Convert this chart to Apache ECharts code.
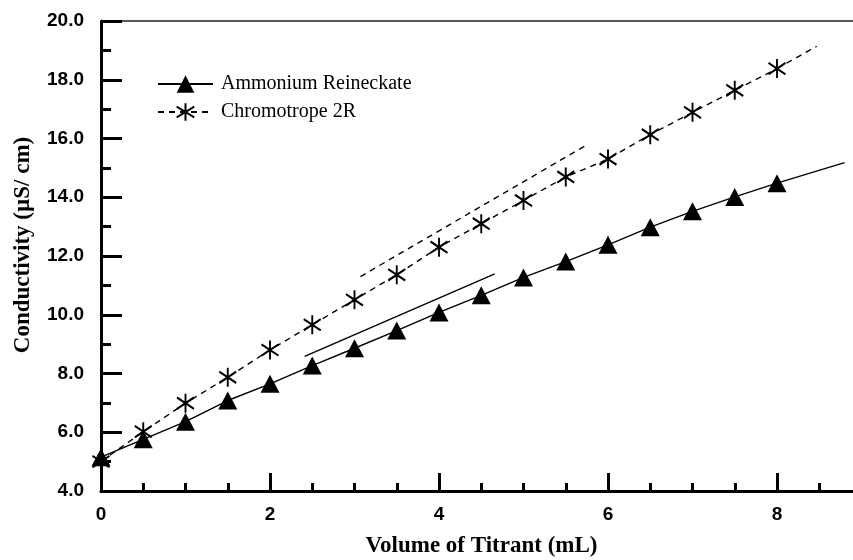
<!DOCTYPE html>
<html>
<head>
<meta charset="utf-8">
<script src="https://cdn.jsdelivr.net/npm/echarts@6/dist/echarts.min.js"></script>
<style>
  html, body { margin: 0; padding: 0; background: #fff; }
  #chart { width: 853px; height: 560px; }
</style>
</head>
<body>
<div id="chart"></div>
<script>
var volume = [0, 0.5, 1, 1.5, 2, 2.5, 3, 3.5, 4, 4.5, 5, 5.5, 6, 6.5, 7, 7.5, 8];
var reineckate = [5.15, 5.76, 6.36, 7.08, 7.65, 8.27, 8.86, 9.46, 10.08, 10.66, 11.27, 11.81, 12.38, 12.98, 13.52, 14.01, 14.48];
var chromotrope = [5.0, 6.02, 6.99, 7.87, 8.80, 9.66, 10.51, 11.36, 12.30, 13.10, 13.89, 14.69, 15.30, 16.13, 16.89, 17.64, 18.38];

// extra fitted segments seen on the plot
var reineckateExt = [[8, 14.48], [8.8, 15.18]];
var reineckateTangent = [[2.41, 8.58], [4.66, 11.39]];
var chromotropeExt = [[8, 18.38], [8.47, 19.14]];
var chromotropeTangent = [[3.07, 11.3], [5.76, 15.8]];

var seriesNames = ['Ammonium Reineckate', 'Chromotrope 2R'];
var xTitle = 'Volume of Titrant (mL)';
var yTitle = 'Conductivity (\u00b5S/ cm)';

var asterisk = 'path://M10,0L10,20M1,4L19,16M1,16L19,4';

function pairs(xs, ys) {
    return xs.map(function (x, i) { return [x, ys[i]]; });
}

var chart = echarts.init(document.getElementById('chart'));

var solid = { color: '#000', width: 1.4, type: 'solid' };
var dashed = { color: '#000', width: 1.4, type: [6, 5] };

var option = {
    backgroundColor: '#fff',
    animation: false,
    // the axis runs to 10 but only ~8.9 fits in the window, like the original
    grid: { left: 101, top: 21, bottom: 69, right: -93, containLabel: false, outerBoundsMode: 'none' },
    legend: {
        orient: 'vertical',
        left: 152,
        top: 69,
        itemWidth: 55,
        itemHeight: 22,
        itemGap: 8,
        data: seriesNames,
        textStyle: {
            fontFamily: 'Liberation Serif',
            fontSize: 20,
            color: '#000',
            padding: [0, 0, 0, 3]
        }
    },
    xAxis: [{
        type: 'value',
        min: 0,
        max: 10,
        interval: 2,
        name: xTitle,
        nameLocation: 'middle',
        nameGap: 44,
        nameTextStyle: {
            fontFamily: 'Liberation Serif',
            fontWeight: 'bold',
            fontSize: 23,
            color: '#000',
            padding: [0, 84, 0, 0]
        },
        axisLine: { lineStyle: { color: '#000', width: 3 } },
        axisTick: { inside: true, length: 18, lineStyle: { color: '#000', width: 3 } },
        minorTick: { show: true, splitNumber: 4, length: 8, lineStyle: { color: '#000', width: 3 } },
        axisLabel: {
            margin: 14,
            fontFamily: 'Liberation Sans',
            fontWeight: 'bold',
            fontSize: 19,
            color: '#000'
        },
        splitLine: { show: false }
    }, {
        type: 'value',
        position: 'top',
        min: 0,
        max: 10,
        axisLine: { onZero: false, lineStyle: { color: '#222', width: 1.5 } },
        axisTick: { show: false },
        axisLabel: { show: false },
        splitLine: { show: false }
    }],
    yAxis: {
        type: 'value',
        min: 4,
        max: 20,
        interval: 2,
        name: yTitle,
        nameLocation: 'middle',
        nameGap: 66,
        nameTextStyle: {
            fontFamily: 'Liberation Serif',
            fontWeight: 'bold',
            fontSize: 23,
            color: '#000',
            padding: [0, 0, 0, 22]
        },
        axisLine: { show: true, lineStyle: { color: '#000', width: 3 } },
        axisTick: { show: true, inside: true, length: 21, lineStyle: { color: '#000', width: 3 } },
        minorTick: { show: true, splitNumber: 2, length: 10, lineStyle: { color: '#000', width: 3 } },
        axisLabel: {
            margin: 17,
            fontFamily: 'Liberation Sans',
            fontWeight: 'bold',
            fontSize: 19,
            color: '#000',
            formatter: function (v) { return v.toFixed(1); }
        },
        splitLine: { show: false }
    },
    series: [{
        name: seriesNames[0],
        type: 'line',
        data: pairs(volume, reineckate),
        symbol: 'triangle',
        symbolSize: [19, 18],
        itemStyle: { color: '#000', borderWidth: 0 },
        lineStyle: solid,
        z: 3
    }, {
        name: seriesNames[1],
        type: 'line',
        data: pairs(volume, chromotrope),
        symbol: asterisk,
        symbolSize: [17, 19],
        itemStyle: { color: '#000', borderColor: '#000', borderWidth: 2 },
        lineStyle: dashed,
        z: 3
    }, {
        type: 'line', data: reineckateExt, symbol: 'none', lineStyle: solid
    }, {
        type: 'line', data: reineckateTangent, symbol: 'none', lineStyle: solid
    }, {
        type: 'line', data: chromotropeExt, symbol: 'none', lineStyle: dashed
    }, {
        type: 'line', data: chromotropeTangent, symbol: 'none', lineStyle: dashed
    }]
};

chart.setOption(option);
</script>
</body>
</html>
